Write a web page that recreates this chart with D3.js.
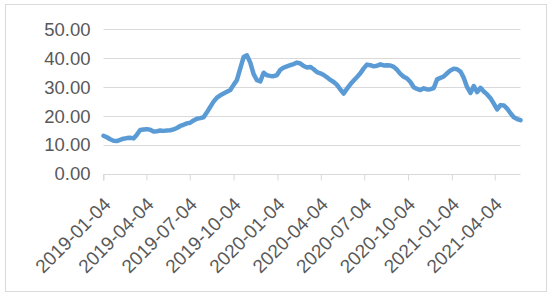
<!DOCTYPE html>
<html>
<head>
<meta charset="utf-8">
<script src="https://cdn.jsdelivr.net/npm/d3@7"></script>
<style>
  html, body { margin: 0; padding: 0; background: #fff; }
  svg { display: block; font-family: "Liberation Sans", Arial, sans-serif; }
</style>
</head>
<body>
<svg id="chart" width="550" height="297"></svg>
<script>
// ---- data ----
const startDate = "2019-01-04";          // first weekly observation (Fridays)
const values = [
  13.2,12.7,12.0,11.5,11.4,11.8,12.2,12.4,12.5,12.3,
  13.6,15.2,15.4,15.5,15.3,14.7,14.8,15.0,14.9,15.0,
  15.1,15.4,15.9,16.6,17.0,17.5,17.7,18.5,19.1,19.3,
  19.6,21.3,23.2,25.0,26.4,27.2,27.8,28.4,29.0,30.8,
  32.5,36.5,40.4,41.0,38.5,34.5,32.4,32.0,35.0,34.1,
  33.9,33.8,34.2,36.0,36.8,37.2,37.6,38.0,38.5,38.2,
  37.3,36.8,37.0,36.2,35.2,34.8,34.2,33.4,32.5,31.8,
  30.8,29.2,27.8,29.5,31.0,32.3,33.5,34.8,36.5,37.8,
  37.6,37.2,37.4,37.9,37.5,37.6,37.5,37.0,36.0,34.6,
  33.6,33.0,31.8,30.0,29.4,29.0,29.6,29.2,29.3,29.7,
  32.7,33.2,33.7,34.8,35.8,36.4,36.2,35.4,33.2,30.0,
  28.0,30.4,28.3,29.8,28.5,27.5,26.2,24.3,22.3,23.8,
  23.7,22.6,21.0,19.6,19.0,18.6
];
const xTickLabels = ["2019-01-04","2019-04-04","2019-07-04","2019-10-04","2020-01-04",
                     "2020-04-04","2020-07-04","2020-10-04","2021-01-04","2021-04-04"];
const yTicks = [0, 10, 20, 30, 40, 50];

// ---- build ----
(function () {
const parse = d3.utcParse("%Y-%m-%d");
const fmt = d3.utcFormat("%Y-%m-%d");
const t0 = parse(startDate);
const data = values.map((v, i) => ({ date: d3.utcDay.offset(t0, 7 * i), value: v }));

const svg = d3.select("#chart");
const pL = 103.5, pR = 520.5, pT = 29.3, pB = 174;

svg.append("rect")
  .attr("x", 5.5).attr("y", 4.5).attr("width", 541).attr("height", 287)
  .attr("fill", "#fff").attr("stroke", "#d9d9d9").attr("stroke-width", 1);

const x = d3.scaleUtc()
  .domain([t0, data[data.length - 1].date])
  .range([pL, pR]);
const y = d3.scaleLinear().domain([0, 50]).range([pB, pT]);

// gridlines
svg.append("g").selectAll("line")
  .data(yTicks.filter(d => d > 0))
  .join("line")
  .attr("x1", pL).attr("x2", pR)
  .attr("y1", d => Math.round(y(d)) + 0.5).attr("y2", d => Math.round(y(d)) + 0.5)
  .attr("stroke", "#d9d9d9").attr("stroke-width", 1);

// y axis labels
const yAxis = d3.axisLeft(y).tickValues(yTicks).tickFormat(d3.format(".2f")).tickSize(0).tickPadding(0);
const gy = svg.append("g").attr("transform", `translate(${pL - 13},0)`).call(yAxis);
gy.select(".domain").remove();
gy.selectAll("text").attr("fill", "#595959").attr("font-size", 18.5)
  .attr("font-family", "Liberation Sans, Arial, sans-serif");

// x axis
const tickDates = xTickLabels.map(parse);
const xAxis = d3.axisBottom(x).tickValues(tickDates).tickFormat(fmt).tickSize(6).tickPadding(0);
const gx = svg.append("g").attr("transform", `translate(0,${Math.round(pB) + 0.5})`).call(xAxis);
gx.select(".domain").attr("stroke", "#d9d9d9").attr("d", `M${pL},6V0H${pR}`);
gx.selectAll(".tick line").attr("stroke", "#d9d9d9");
gx.selectAll("text")
  .attr("fill", "#595959").attr("font-size", 19)
  .attr("font-family", "Liberation Sans, Arial, sans-serif")
  .attr("text-anchor", "end")
  .attr("dy", null).attr("y", null)
  .attr("transform", "translate(8,31) rotate(-45)");

// line
const line = d3.line().x(d => x(d.date)).y(d => y(d.value)).curve(d3.curveLinear);
svg.append("path")
  .datum(data)
  .attr("d", line)
  .attr("fill", "none")
  .attr("stroke", "#5b9bd5")
  .attr("stroke-width", 4.5)
  .attr("stroke-linejoin", "round")
  .attr("stroke-linecap", "round");
})();
</script>
</body>
</html>
